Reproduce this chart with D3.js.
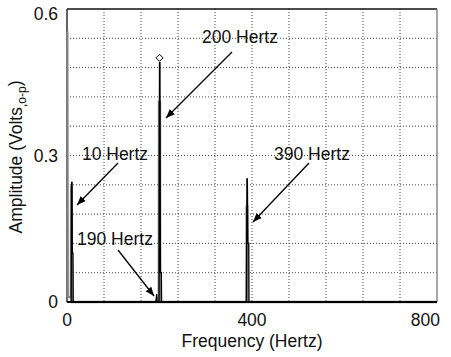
<!DOCTYPE html>
<html><head><meta charset="utf-8">
<script src="https://cdn.jsdelivr.net/npm/d3@7"></script>
<style>body{margin:0;background:#fff}svg{display:block}text{font-family:"Liberation Sans",Arial,Helvetica,sans-serif;fill:#111}</style>
</head><body><svg id="c" width="451" height="357"></svg>
<script>
// Spectrum traces (frequency in Hz, amplitude in Volts o-p)
const blackFreq = [0, 9, 10, 11, 11.5, 13, 13.5, 192, 194, 195, 199, 200, 201, 202, 204, 204.5, 388, 389, 390, 391, 393, 393.5, 800];
const blackAmp  = [0, 0, 0.245, 0.245, 0.1, 0.1, 0, 0, 0.016, 0, 0, 0.49, 0.49, 0.06, 0.06, 0, 0, 0.252, 0.252, 0.12, 0.12, 0, 0];
const grayFreq  = [0, 0.5, 1.5, 8.5, 9, 9.8, 10.3, 198.5, 199, 201, 201.5, 388, 388.5, 389.8, 390.3, 800];
const grayAmp   = [0.553, 0.553, 0.01, 0.01, 0.235, 0.235, 0, 0, 0.41, 0.41, 0, 0, 0.195, 0.195, 0, 0];
const peakMarker = {freq: 200, amp: 0.5};
const xTicks = [0, 400, 800];
const yTicks = [0, 0.3, 0.6];
const annotations = [
  {label: "200 Hertz", tx: 240, ty: 37, x1: 232, y1: 52, x2: 166, y2: 118},
  {label: "10 Hertz",  tx: 115, ty: 154, x1: 118, y1: 163, x2: 77, y2: 205},
  {label: "190 Hertz", tx: 115, ty: 239, x1: 118, y1: 250, x2: 154, y2: 296},
  {label: "390 Hertz", tx: 312, ty: 154, x1: 309, y1: 163, x2: 253, y2: 222}
];

const svg = d3.select("#c");
const L = 67, T = 9, W = 370, H = 293;
const x = d3.scaleLinear().domain([0, 800]).range([L, L + W]);
const y = d3.scaleLinear().domain([0, 0.6]).range([T + H, T]);

// grid
const g = svg.append("g");
g.selectAll("line.v").data(d3.range(1, 10).map(i => i * 80)).join("line")
  .attr("x1", d => x(d)).attr("x2", d => x(d)).attr("y1", T).attr("y2", T + H)
  .attr("stroke", "#444").attr("stroke-width", 1).attr("stroke-dasharray", "1,2");
g.selectAll("line.h").data(d3.range(1, 10).map(i => i * 0.06)).join("line")
  .attr("y1", d => y(d)).attr("y2", d => y(d)).attr("x1", L).attr("x2", L + W)
  .attr("stroke", "#444").attr("stroke-width", 1).attr("stroke-dasharray", "1,2");

// frame
svg.append("line").attr("x1", L).attr("x2", L + W).attr("y1", T).attr("y2", T).attr("stroke", "#111").attr("stroke-width", 1.3);
svg.append("line").attr("x1", L).attr("x2", L).attr("y1", T).attr("y2", T + H).attr("stroke", "#111").attr("stroke-width", 1.3);
svg.append("line").attr("x1", L + W).attr("x2", L + W).attr("y1", T).attr("y2", T + H).attr("stroke", "#777").attr("stroke-width", 1.3);

// traces
const line = d3.line().x(d => x(d[0])).y(d => y(d[1]));
svg.append("path").datum(grayFreq.map((f, i) => [f, grayAmp[i]]))
  .attr("d", line).attr("fill", "none").attr("stroke", "#808080").attr("stroke-width", 2.4);
svg.append("path").datum(blackFreq.map((f, i) => [f, blackAmp[i]]))
  .attr("d", line).attr("fill", "none").attr("stroke", "#000").attr("stroke-width", 1.3);
// thick baseline
svg.append("line").attr("x1", L).attr("x2", L + W).attr("y1", y(0)).attr("y2", y(0)).attr("stroke", "#000").attr("stroke-width", 2.2);

// peak marker
const px = x(peakMarker.freq), py = y(peakMarker.amp);
svg.append("path").attr("d", `M${px},${py - 3.5}L${px + 3.5},${py}L${px},${py + 3.5}L${px - 3.5},${py}Z`)
  .attr("fill", "#fff").attr("stroke", "#000").attr("stroke-width", 1);

// ticks labels
svg.selectAll("text.yt").data(yTicks).join("text")
  .attr("x", 58).attr("y", d => d === 0.6 ? y(d) + 5 : y(d)).attr("dy", "0.35em")
  .attr("text-anchor", "end").attr("font-size", 17.5).text(d => d === 0 ? "0" : d.toFixed(1));
svg.selectAll("text.xt").data(xTicks).join("text")
  .attr("x", d => d === 800 ? x(d) + 3 : x(d)).attr("y", 320).attr("dy", "0.35em")
  .attr("text-anchor", d => d === 800 ? "end" : "middle").attr("font-size", 17.5).text(d => d);

// axis titles
svg.append("text").attr("x", 252).attr("y", 341).attr("dy", "0.35em").attr("text-anchor", "middle")
  .attr("font-size", 17.5).text("Frequency (Hertz)");
const yt = svg.append("text").attr("transform", "translate(16,157) rotate(-90)").attr("text-anchor", "middle")
  .attr("dy", "0.35em").attr("font-size", 17.5);
yt.append("tspan").text("Amplitude (Volts");
yt.append("tspan").attr("font-size", 12).attr("dy", "0.3em").text(",o-p");
yt.append("tspan").attr("dy", "-0.25em").text(")");

// arrows
svg.append("defs").append("marker").attr("id", "ah").attr("viewBox", "0 0 10 10")
  .attr("refX", 10).attr("refY", 5).attr("markerWidth", 9).attr("markerHeight", 9)
  .attr("markerUnits", "userSpaceOnUse").attr("orient", "auto")
  .append("path").attr("d", "M0,1L10,5L0,9Z").attr("fill", "#000");
svg.selectAll("line.arr").data(annotations).join("line")
  .attr("x1", d => d.x1).attr("y1", d => d.y1).attr("x2", d => d.x2).attr("y2", d => d.y2)
  .attr("stroke", "#000").attr("stroke-width", 1.3).attr("marker-end", "url(#ah)");
svg.selectAll("text.ann").data(annotations).join("text")
  .attr("x", d => d.tx).attr("y", d => d.ty).attr("dy", "0.35em").attr("text-anchor", "middle")
  .attr("font-size", 17.5).text(d => d.label);
</script></body></html>
